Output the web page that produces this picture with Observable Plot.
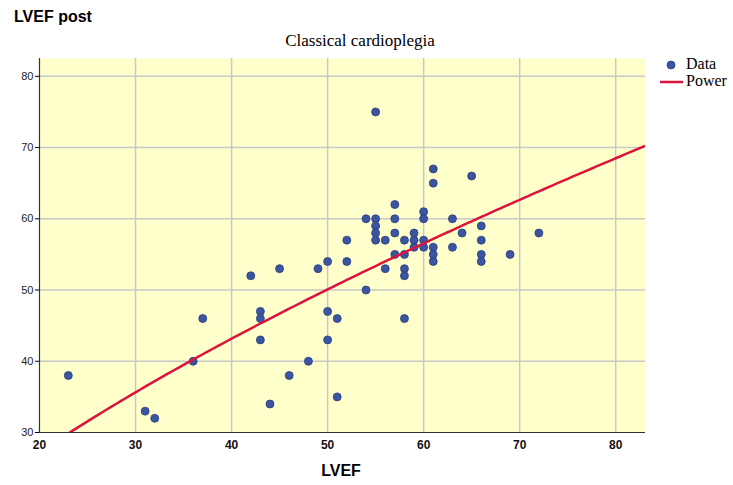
<!DOCTYPE html>
<html>
<head>
<meta charset="utf-8">
<script src="https://cdn.jsdelivr.net/npm/d3@7"></script>
<script src="https://cdn.jsdelivr.net/npm/@observablehq/plot@0.6"></script>
<style>
  html, body { margin: 0; padding: 0; background: #fff; overflow: hidden; }
  #wrap { position: relative; width: 733px; height: 485px; }
  .lbl { position: absolute; white-space: nowrap; color: #000; }
</style>
</head>
<body>
<div id="wrap">
  <div id="chart"></div>
  <div class="lbl" style="left:14px; top:8px; font: bold 16px 'Liberation Sans', Arial, sans-serif;">LVEF post</div>
  <div class="lbl" style="left:0; width:720px; top:31px; text-align:center; font: 17px 'Liberation Serif', 'Times New Roman', serif;">Classical cardioplegia</div>
  <div class="lbl" style="left:686px; top:55px; font: 16px 'Liberation Serif', 'Times New Roman', serif;">Data</div>
  <div class="lbl" style="left:686px; top:72px; font: 16px 'Liberation Serif', 'Times New Roman', serif;">Power</div>
  <div class="lbl" style="left:0; width:682px; top:462px; text-align:center; font: bold 16px 'Liberation Sans', Arial, sans-serif;">LVEF</div>
  <svg class="lbl" style="left:0; top:0;" width="733" height="485">
    <circle cx="671" cy="65" r="4" fill="#3B55A1" stroke="#2a3f80" stroke-width="0.8"></circle>
    <line x1="660" x2="683" y1="82" y2="82" stroke="#DC143C" stroke-width="2.5"></line>
  </svg>
</div>
<script>
// Data
const lvef = [23, 31, 32, 36, 37, 42, 43, 43, 43, 44, 45, 46, 48, 49, 50, 50, 50, 51, 51, 52, 52,
  54, 54, 55, 55, 55, 55, 55, 56, 56, 57, 57, 57, 57, 58, 58, 58, 58, 58, 59, 59, 59,
  60, 60, 60, 60, 61, 61, 61, 61, 61, 63, 63, 64, 65, 66, 66, 66, 66, 69, 72];
const lvefPost = [38, 33, 32, 40, 46, 52, 47, 46, 43, 34, 53, 38, 40, 53, 54, 47, 43, 46, 35, 57, 54,
  60, 50, 75, 60, 59, 58, 57, 57, 53, 62, 60, 58, 55, 57, 55, 53, 52, 46, 58, 57, 56,
  61, 60, 57, 56, 67, 65, 56, 55, 54, 60, 56, 58, 66, 59, 57, 55, 54, 55, 58];
const xTicks = [20, 30, 40, 50, 60, 70, 80];
const yTicks = [30, 40, 50, 60, 70, 80];
// Power fit line y = a * x^b, coefficients
const powerA = 3.70;
const powerB = 0.666;

const points = lvef.map((x, i) => ({x, y: lvefPost[i]}));
const xDomain = [20, 83.1];
const fit = d3.range(xDomain[0], xDomain[1] + 0.01, 0.5).map(x => ({x, y: powerA * Math.pow(x, powerB)}));

const chart = Plot.plot({
  width: 733,
  height: 485,
  marginLeft: 39,
  marginRight: 88,
  marginTop: 58,
  marginBottom: 53,
  style: {background: "transparent"},
  x: {domain: xDomain, ticks: xTicks, label: null},
  y: {domain: [30, 82.5], ticks: yTicks, label: null},
  marks: [
    Plot.frame({fill: "#FFFFCC", stroke: null}),
    Plot.gridX(xTicks.filter(d => d > 20), {stroke: "#c8c8c8", strokeOpacity: 1, strokeWidth: 1.5}),
    Plot.gridY(yTicks.filter(d => d > 30), {stroke: "#c8c8c8", strokeOpacity: 1, strokeWidth: 1.5}),
    Plot.axisY(yTicks, {tickSize: 4, tickPadding: 2, fontSize: 11, fill: "#222", fontFamily: "Liberation Sans, Arial, sans-serif"}),
    Plot.axisX(xTicks, {tickSize: 0, tickPadding: 8, fontSize: 12, fontWeight: "bold", fill: "#111", fontFamily: "Liberation Sans, Arial, sans-serif"}),
    Plot.ruleX([20], {stroke: "#333", strokeWidth: 1.2}),
    Plot.ruleY([30], {stroke: "#333", strokeWidth: 1.2}),
    Plot.dot(points, {x: "x", y: "y", r: 4, fill: "#3B55A1", stroke: "#2a3f80", strokeWidth: 0.8}),
    Plot.line(fit, {x: "x", y: "y", stroke: "#DC143C", strokeWidth: 2.5, clip: true})
  ]
});
document.getElementById("chart").appendChild(chart);
</script>
</body>
</html>
